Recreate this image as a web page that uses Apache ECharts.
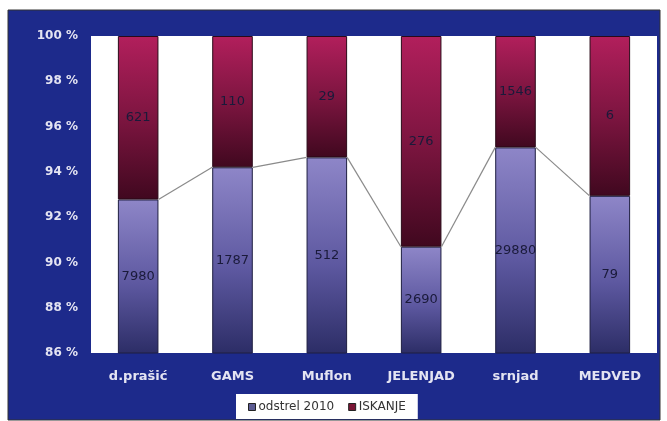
<!DOCTYPE html>
<html><head><meta charset="utf-8">
<script src="https://cdn.jsdelivr.net/npm/echarts@6/dist/echarts.min.js"></script>
<style>html,body{margin:0;padding:0;background:#fff}#c{width:667px;height:421px}</style>
</head><body><div id="c"></div>
<script>
const categories = ['d.prašić', 'GAMS', 'Muflon', 'JELENJAD', 'srnjad', 'MEDVED'];
const odstrel = [7980, 1787, 512, 2690, 29880, 79];
const iskanje = [621, 110, 29, 276, 1546, 6];
const yTicks = [86, 88, 90, 92, 94, 96, 98, 100];

const totals = odstrel.map((v, i) => v + iskanje[i]);
const odPct = odstrel.map((v, i) => v / totals[i] * 100);
const isPct = iskanje.map((v, i) => v / totals[i] * 100);

const chart = echarts.init(document.getElementById('c'), null, {renderer: 'canvas'});
const barFrac = 0.43;
const FONT = 'DejaVu Sans, Arial, sans-serif';
chart.setOption({
  backgroundColor: '#ffffff',
  animation: false,
  graphic: [{
    type: 'rect', z: -10, silent: true,
    shape: {x: 8, y: 10, width: 652, height: 410},
    style: {fill: '#1d2a8b', stroke: '#333', lineWidth: 1}
  }],
  grid: {left: 91, right: 10, top: 36, bottom: 68, show: true, backgroundColor: '#ffffff', borderWidth: 0},
  legend: {
    bottom: 2, left: 236,
    backgroundColor: '#ffffff', padding: [7, 12, 6, 12],
    itemWidth: 7, itemHeight: 7, itemGap: 14,
    textStyle: {color: '#333', fontSize: 12, fontFamily: FONT, padding: [0, 0, 0, -2]},
    data: [
      {name: 'odstrel 2010', icon: 'rect', itemStyle: {color: '#5b5b92', borderColor: '#222', borderWidth: 1}},
      {name: 'ISKANJE', icon: 'rect', itemStyle: {color: '#7a1535', borderColor: '#222', borderWidth: 1}}
    ]
  },
  xAxis: {
    type: 'category', data: categories,
    axisLine: {show: false}, axisTick: {show: false},
    axisLabel: {color: '#e4e4f2', fontSize: 13, fontWeight: 'bold', fontFamily: FONT, margin: 17}
  },
  yAxis: {
    type: 'value', min: yTicks[0], max: yTicks[yTicks.length - 1], interval: 2,
    axisLine: {show: false}, axisTick: {show: false}, splitLine: {show: false},
    axisLabel: {color: '#e4e4f2', fontSize: 12, fontWeight: 'bold', fontFamily: FONT, margin: 13,
      formatter: v => v + ' %'}
  },
  series: [
    {
      name: 'odstrel 2010', type: 'bar', stack: 's', barWidth: (barFrac * 100) + '%',
      data: odPct,
      itemStyle: {
        borderColor: '#1e1e40', borderWidth: 1,
        color: new echarts.graphic.LinearGradient(0, 0, 0, 1, [
          {offset: 0, color: '#8e86c8'}, {offset: 0.55, color: '#5d58a0'}, {offset: 1, color: '#2c2d66'}
        ])
      },
      label: {show: true, position: 'inside', color: '#1a1a3a', fontSize: 13, fontFamily: FONT,
        formatter: p => odstrel[p.dataIndex]}
    },
    {
      name: 'ISKANJE', type: 'bar', stack: 's', barWidth: (barFrac * 100) + '%',
      data: isPct,
      itemStyle: {
        borderColor: '#2a0a18', borderWidth: 1,
        color: new echarts.graphic.LinearGradient(0, 0, 0, 1, [
          {offset: 0, color: '#b21f5c'}, {offset: 0.5, color: '#7d1540'}, {offset: 1, color: '#40081f'}
        ])
      },
      label: {show: true, position: 'inside', color: '#1a1a3a', fontSize: 13, fontFamily: FONT,
        formatter: p => iskanje[p.dataIndex]}
    },
    {
      name: 'lines', type: 'custom', z: 5, silent: true,
      data: odPct.slice(0, -1).map((v, i) => [i, v]),
      renderItem: (params, api) => {
        const i = api.value(0);
        const half = api.size([1, 0])[0] * barFrac / 2;
        const a = api.coord([i, odPct[i]]);
        const b = api.coord([i + 1, odPct[i + 1]]);
        return {type: 'line', shape: {x1: a[0] + half, y1: a[1], x2: b[0] - half, y2: b[1]},
          style: {stroke: '#8a8a8a', lineWidth: 1.2}};
      }
    }
  ]
});
</script></body></html>
